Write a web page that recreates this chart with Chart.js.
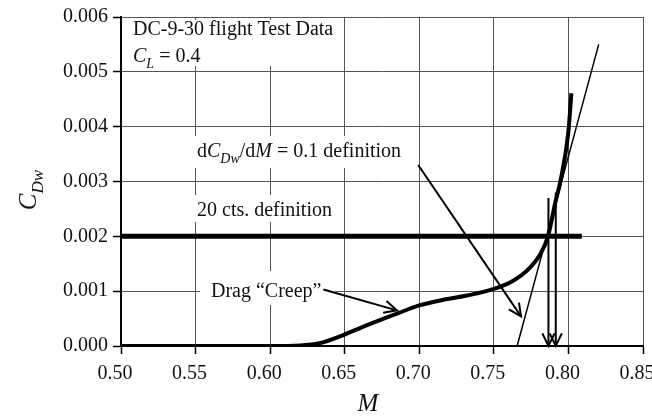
<!DOCTYPE html>
<html>
<head>
<meta charset="utf-8">
<script src="https://cdn.jsdelivr.net/npm/chart.js@4.4.1/dist/chart.umd.min.js"></script>
<style>
  html, body { margin: 0; padding: 0; background: #fff; overflow: hidden; }
  #wrap { width: 670px; height: 417px; }
</style>
</head>
<body>
<div id="wrap"><canvas id="chart" width="670" height="417"></canvas></div>
<script>
// drag creep curve (flight test)
const creepMach = [0.50, 0.55, 0.60, 0.62, 0.633, 0.649, 0.665, 0.685, 0.70, 0.714, 0.732, 0.75, 0.763, 0.772, 0.781, 0.7863, 0.7913, 0.7946, 0.7999, 0.802];
const creepCdw  = [0, 0, 0, 0.00001, 0.00005, 0.0002, 0.00038, 0.00059, 0.00074, 0.00083, 0.00092, 0.00104, 0.00119, 0.00137, 0.00167, 0.002, 0.00263, 0.003, 0.00389, 0.00461];

// 20 counts definition line
const ctsMach = [0.50, 0.809];
const ctsCdw  = [0.002, 0.002];

// dCdw/dM = 0.1 tangent
const slopeMach = [0.7656, 0.8203];
const slopeCdw  = [0, 0.0055];

// arrows [start, tip]
const slopeArrowMach = [0.6993, 0.7682];
const slopeArrowCdw  = [0.0033, 0.00054];
const creepArrowMach = [0.6357, 0.685];
const creepArrowCdw  = [0.00103, 0.00065];
const mdd1Mach = [0.7866, 0.7866];
const mdd1Cdw  = [0.0027, 0];
const mdd2Mach = [0.7915, 0.7915];
const mdd2Cdw  = [0.0028, 0];

const serif = "'Liberation Serif', 'Times New Roman', serif";

function pts(xs, ys) {
  return xs.map((x, i) => ({ x: x, y: ys[i] }));
}

function line(xs, ys, width, extra) {
  return Object.assign({
    data: pts(xs, ys),
    borderColor: '#000',
    borderWidth: width,
    pointRadius: 0,
    fill: false
  }, extra || {});
}

// draw a run of text pieces: [text, italic, subscript]
function drawRuns(ctx, x, y, runs, size) {
  runs.forEach(r => {
    const s = r[2] ? Math.round(size * 0.68) : size;
    ctx.font = (r[1] ? 'italic ' : '') + s + 'px ' + serif;
    ctx.fillText(r[0], x, y + (r[2] ? size * 0.28 : 0));
    x += ctx.measureText(r[0]).width;
  });
}

function runsWidth(ctx, runs, size) {
  let w = 0;
  runs.forEach(r => {
    const s = r[2] ? Math.round(size * 0.68) : size;
    ctx.font = (r[1] ? 'italic ' : '') + s + 'px ' + serif;
    w += ctx.measureText(r[0]).width;
  });
  return w;
}

const labels = {
  id: 'labels',
  beforeDatasetsDraw(chart) {
    const ctx = chart.ctx;
    ctx.save();
    ctx.fillStyle = '#fff';
    ctx.fillRect(127, 20, 209, 46);
    ctx.fillRect(190, 136, 218, 32);
    ctx.fillRect(190, 195, 148, 27);
    ctx.fillRect(200, 271, 135, 34);
    ctx.fillStyle = '#111';
    ctx.textBaseline = 'alphabetic';
    drawRuns(ctx, 133, 35, [['DC-9-30 flight Test Data']], 20);
    drawRuns(ctx, 133, 62, [['C', true], ['L', true, true], [' = 0.4']], 20);
    drawRuns(ctx, 197, 157, [['d'], ['C', true], ['Dw', true, true], ['/d'], ['M', true], [' = 0.1 definition']], 20);
    drawRuns(ctx, 197, 216, [['20 cts. definition']], 20);
    drawRuns(ctx, 211, 297, [['Drag \u201cCreep\u201d']], 20);
    ctx.restore();
  },
  afterDraw(chart) {
    const ctx = chart.ctx;
    ctx.save();
    ctx.fillStyle = '#111';
    // x title
    ctx.font = 'italic 25px ' + serif;
    ctx.textAlign = 'center';
    ctx.fillText('M', 368, 411);
    // y title, rotated
    ctx.textAlign = 'left';
    const yRuns = [['C', true], ['Dw', true, true]];
    const w = runsWidth(ctx, yRuns, 25);
    ctx.translate(36, 190);
    ctx.rotate(-Math.PI / 2);
    drawRuns(ctx, -w / 2, 0, yRuns, 25);
    ctx.restore();
  }
};

const arrowHeads = {
  id: 'arrowHeads',
  afterDatasetsDraw(chart) {
    const ctx = chart.ctx;
    chart.data.datasets.forEach((ds, i) => {
      if (!ds.arrow) return;
      const p = chart.getDatasetMeta(i).data;
      const a = p[p.length - 2], b = p[p.length - 1];
      const ang = Math.atan2(b.y - a.y, b.x - a.x);
      const len = 14, spread = 0.45;
      ctx.save();
      ctx.strokeStyle = '#000';
      ctx.lineWidth = 2;
      ctx.beginPath();
      ctx.moveTo(b.x - len * Math.cos(ang - spread), b.y - len * Math.sin(ang - spread));
      ctx.lineTo(b.x, b.y);
      ctx.lineTo(b.x - len * Math.cos(ang + spread), b.y - len * Math.sin(ang + spread));
      ctx.stroke();
      ctx.restore();
    });
  }
};

new Chart(document.getElementById('chart'), {
  type: 'line',
  data: {
    datasets: [
      line(ctsMach, ctsCdw, 5),
      line(slopeMach, slopeCdw, 1.5),
      line(creepMach, creepCdw, 4, { cubicInterpolationMode: 'monotone' }),
      line(slopeArrowMach, slopeArrowCdw, 2, { arrow: true }),
      line(creepArrowMach, creepArrowCdw, 2, { arrow: true }),
      line(mdd1Mach, mdd1Cdw, 2, { arrow: true }),
      line(mdd2Mach, mdd2Cdw, 2, { arrow: true })
    ]
  },
  options: {
    responsive: false,
    animation: false,
    devicePixelRatio: 1,
    layout: { padding: { top: 13, right: 27, left: 0, bottom: 0 } },
    plugins: {
      legend: { display: false },
      tooltip: { enabled: false }
    },
    scales: {
      x: {
        type: 'linear',
        min: 0.5,
        max: 0.85,
        afterFit: s => { s.height = 71; },
        ticks: {
          stepSize: 0.05,
          padding: 8,
          labelOffset: -6,
          color: '#111',
          font: { family: serif, size: 20 },
          callback: v => v.toFixed(2)
        },
        grid: { color: '#555', lineWidth: 1, tickLength: 8, tickColor: '#000', tickWidth: 1.5 },
        border: { color: '#000', width: 2 }
      },
      y: {
        min: 0,
        max: 0.006,
        afterFit: s => { s.width = 121; },
        ticks: {
          stepSize: 0.001,
          padding: 5,
          color: '#111',
          font: { family: serif, size: 20 },
          callback: v => v.toFixed(3)
        },
        grid: { color: '#555', lineWidth: 1, tickLength: 8, tickColor: '#000', tickWidth: 1.5 },
        border: { color: '#000', width: 2 }
      }
    }
  },
  plugins: [labels, arrowHeads]
});
</script>
</body>
</html>
